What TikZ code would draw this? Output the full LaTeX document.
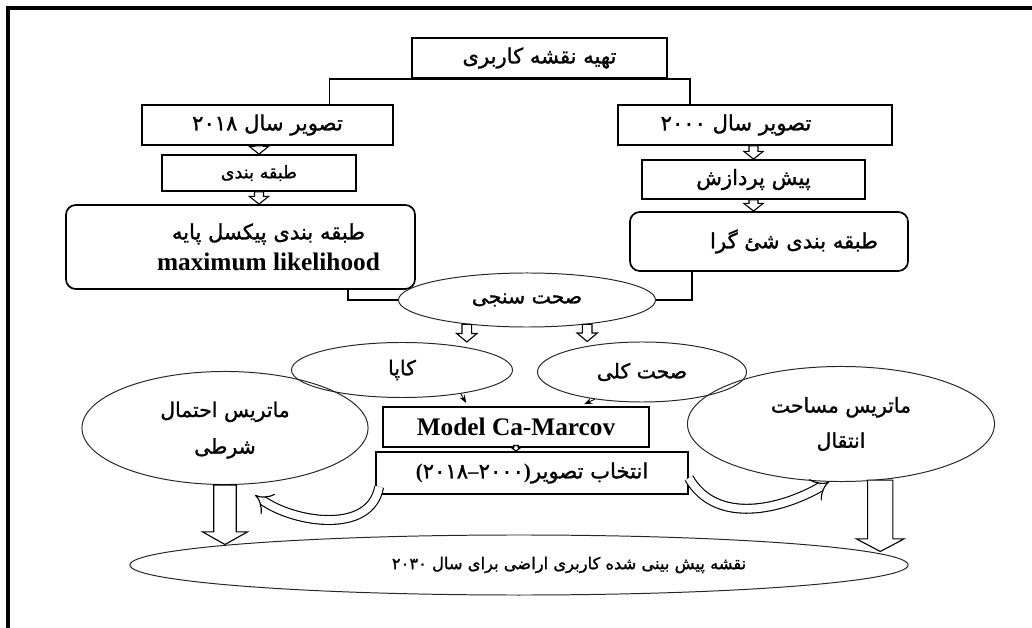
\documentclass[tikz,border=0pt]{standalone}
\usepackage{fontspec}
\setmainfont{Liberation Serif}
\newfontfamily\fa[Script=Arabic, RawFeature={embolden=1.2}]{DejaVu Sans}
\TeXXeTstate=1
\usetikzlibrary{shapes.geometric, arrows.meta, calc}
\tikzset{
    box/.style={draw, line width=1.2pt, rectangle, align=center, inner sep=2pt, font=\fa\fontsize{15}{18}\selectfont},
    roundbox/.style={box, rounded corners=7pt},
    ellipsebox/.style={draw, black!85, text=black, line width=0.7pt, ellipse, inner sep=0pt, align=center, font=\fa\fontsize{14.5}{17}\selectfont},
    hblock/.style n args={3}{draw, line width=0.8pt, fill=white, to path={let \p1=(\tikztostart), \p2=(\tikztotarget) in
        (\x1-#1,\y1) -- (\x1-#1,\y2+#3) -- (\x1-#2,\y2+#3) -- (\x1,\y2) -- (\x1+#2,\y2+#3) -- (\x1+#1,\y2+#3) -- (\x1+#1,\y1) -- cycle}},
    bent/.style={double=white, double distance=5.5pt, line width=0.8pt, -{Implies}}
}

\begin{document}
\begin{tikzpicture}[x=0.025cm, y=-0.025cm]
    \useasboundingbox (0,0) rectangle (1032,628);
    \draw[line width=2.2pt] (1032,8) -- (8,8) -- (8,628);

    \node[box, minimum width=6.375cm, minimum height=1cm] (plan) at (539.5,58) {\beginR تهیه نقشه کاربری\endR};
    \node[box, minimum width=6.275cm, minimum height=1cm] (img18) at (267.5,125) {\beginR تصویر سال ۲۰۱۸\endR};
    \node[box, minimum width=4.85cm, minimum height=0.9cm, font=\fa\fontsize{12.5}{15}\selectfont] (cls18) at (259,173) {\beginR طبقه بندی\endR};
    \node[roundbox, minimum width=8.725cm, minimum height=2.1cm] (pix) at (240.5,247) {\hspace*{1.4cm}\beginR طبقه بندی پیکسل پایه\endR\\[4pt] \hspace*{1.4cm}{\normalfont\bfseries\fontsize{18}{20}\selectfont maximum likelihood}};
    \node[box, minimum width=6.85cm, minimum height=1cm] (img00) at (755,125) {\beginR تصویر سال ۲۰۰۰\endR\hspace*{0.95cm}};
    \node[box, minimum width=5.575cm, minimum height=0.975cm] (prep) at (753.5,179.5) {\beginR پیش پردازش\endR};
    \node[roundbox, minimum width=6.95cm, minimum height=1.475cm] (obj) at (769,241.5) {\hspace*{1.25cm}\beginR طبقه بندی شئ گرا\endR};

    \node[ellipsebox, minimum width=6.425cm, minimum height=1.35cm] (check) at (527,300) {\beginR صحت سنجی\endR};
    \node[ellipsebox, minimum width=5.525cm, minimum height=1.375cm] (kappa) at (402,370) {\beginR کاپا\endR};
    \node[ellipsebox, minimum width=5.225cm, minimum height=1.5cm] (overall) at (642,372) {\beginR صحت کلی\endR};
    \node[box, minimum width=6.65cm, minimum height=1cm] (model) at (516,427) {\normalfont\bfseries\fontsize{18}{20}\selectfont Model Ca-Marcov};
    \node[box, minimum width=7.8cm, minimum height=1.05cm] (select) at (532,473) {{\normalfont\bfseries(}۲۰۱۸{\normalfont\bfseries–}۲۰۰۰{\normalfont\bfseries)}\beginR انتخاب تصویر\endR};
    \node[ellipsebox, minimum width=7.15cm, minimum height=2.825cm] (cond) at (225,428) {\rule{0pt}{14pt}\beginR ماتریس احتمال\endR\\[9pt]\beginR شرطی\endR};
    \node[ellipsebox, minimum width=7.675cm, minimum height=2.875cm] (trans) at (841,424) {\beginR ماتریس مساحت\endR\\[8pt]\beginR انتقال\endR};
    \node[ellipsebox, minimum width=19.45cm, minimum height=1.5cm, font=\fa\fontsize{11.6}{14}\selectfont] (final) at (519,565) {\hspace*{2.5cm}\beginR نقشه پیش بینی شده کاربری اراضی برای سال ۲۰۳۰\endR};

    \draw[line width=1.2pt] ([xshift=1.55cm]img18.north) |- (plan.south) -| ([xshift=-1.625cm]img00.north);
    \draw[line width=1.2pt] ([xshift=2.69cm]pix.south) |- (check.west);
    \draw[line width=1.2pt] ([xshift=-1.925cm]obj.south) |- (check.east);

    \draw[hblock={3.2pt}{6.8pt}{5.5pt}] (cls18.north |- img18.south) to (cls18.north);
    \draw[hblock={3.2pt}{6.8pt}{5.5pt}] (cls18.south) to (pix.north);
    \draw[hblock={3.2pt}{6.8pt}{5.5pt}] (prep.north |- img00.south) to (prep.north);
    \draw[hblock={3.2pt}{6.8pt}{5.5pt}] (prep.south) to (obj.north);
    \draw[hblock={3.4pt}{7.2pt}{6pt}] (check.-158) to (kappa.north);
    \draw[hblock={3.4pt}{7.2pt}{6pt}] (check.-22) to (overall.north);
    \draw[hblock={1.6pt}{3.2pt}{2.5pt}] ([yshift=0.06cm]model.south) to (select.north);
    \draw[hblock={8pt}{16pt}{9pt}] (cond.south) to ([yshift=-0.25cm]final.north);
    \draw[hblock={9pt}{17pt}{9pt}] (trans.-55) to ([yshift=-0.425cm]final.north);

    \draw[-{Stealth[length=2mm]}, line width=0.6pt] (kappa.-22) -- ([xshift=2.1cm, yshift=0.08cm]model.north west);
    \draw[-{Stealth[length=2mm]}, line width=0.6pt] (overall.-150) -- ([xshift=5.05cm, yshift=0.05cm]model.north west);

    \draw[bent] ([xshift=0.1cm, yshift=0.2cm]select.south west) to[out=-100, in=-35] ([xshift=0.75cm, yshift=-0.25cm]cond.south);
    \draw[bent] ([yshift=-0.125cm]select.east) to[out=-60, in=-150] ([xshift=-0.3cm]trans.south);
\end{tikzpicture}
\end{document}
